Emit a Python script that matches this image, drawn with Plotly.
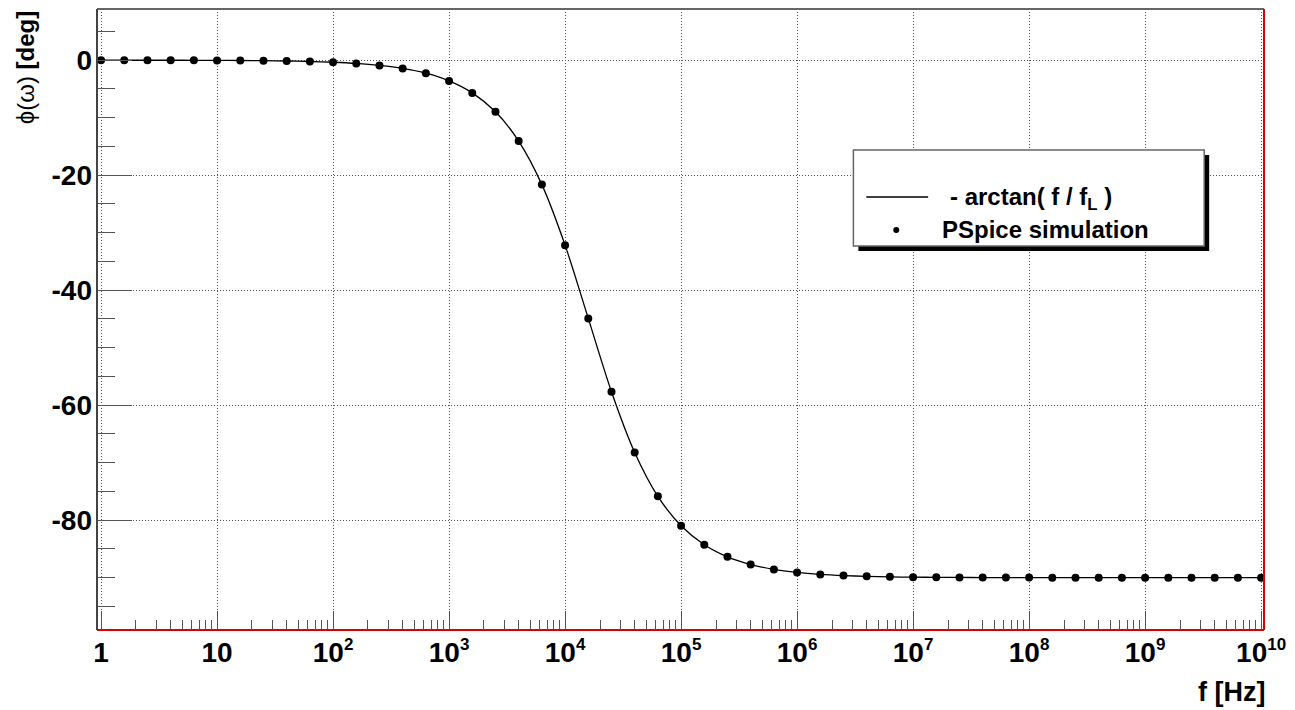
import plotly.graph_objects as go

# PSpice AC sweep: frequency [Hz] and phase [deg], 5 points per decade
freq_hz = [
    1.0, 1.585, 2.512, 3.981, 6.310,
    1.0e1, 1.585e1, 2.512e1, 3.981e1, 6.310e1,
    1.0e2, 1.585e2, 2.512e2, 3.981e2, 6.310e2,
    1.0e3, 1.585e3, 2.512e3, 3.981e3, 6.310e3,
    1.0e4, 1.585e4, 2.512e4, 3.981e4, 6.310e4,
    1.0e5, 1.585e5, 2.512e5, 3.981e5, 6.310e5,
    1.0e6, 1.585e6, 2.512e6, 3.981e6, 6.310e6,
    1.0e7, 1.585e7, 2.512e7, 3.981e7, 6.310e7,
    1.0e8, 1.585e8, 2.512e8, 3.981e8, 6.310e8,
    1.0e9, 1.585e9, 2.512e9, 3.981e9, 6.310e9,
    1.0e10,
]
phase_deg = [
    0.00, -0.01, -0.01, -0.01, -0.02,
    -0.04, -0.06, -0.09, -0.14, -0.23,
    -0.36, -0.57, -0.91, -1.43, -2.27,
    -3.60, -5.69, -8.98, -14.06, -21.64,
    -32.17, -44.91, -57.67, -68.23, -75.86,
    -80.97, -84.27, -86.38, -87.71, -88.56,
    -89.09, -89.43, -89.64, -89.77, -89.86,
    -89.91, -89.94, -89.96, -89.98, -89.99,
    -89.99, -90.00, -90.00, -90.00, -90.00,
    -90.00, -90.00, -90.00, -90.00, -90.00,
    -90.00,
]

x_tick_vals = [1, 1e1, 1e2, 1e3, 1e4, 1e5, 1e6, 1e7, 1e8, 1e9, 1e10]
x_tick_text = ["1", "10"] + [
    f"10<sup><span style='font-size:17px'>{e}</span></sup>" for e in range(2, 11)
]
y_tick_vals = [0, -20, -40, -60, -80]
y_tick_text = ["0", "-20", "-40", "-60", "-80"]

legend_line_label = "- arctan( f / f<sub>L</sub> )"
legend_marker_label = "PSpice simulation"
y_title = "<span style='font-weight:400'>ϕ(ω)</span> [deg]"
x_title = "f [Hz]"

FONT = "Liberation Sans"
W, H = 1295, 710
L, R, T, B = 97, 1268, 9, 630  # plot frame in pixels


def px(xp):
    return (xp - L) / (R - L)


def py(yp):
    return (B - yp) / (B - T)


x_minor = [m * 10 ** d for d in range(10) for m in range(2, 10)]
y_minor = [v for v in range(5, -100, -5) if v % 20 != 0]

fig = go.Figure()

fig.add_trace(go.Scatter(
    x=freq_hz, y=phase_deg, mode="lines",
    line=dict(color="black", width=1.3, shape="spline", smoothing=0.8),
    hoverinfo="skip", showlegend=False,
))
fig.add_trace(go.Scatter(
    x=freq_hz, y=phase_deg, mode="markers",
    marker=dict(color="black", size=8, symbol="circle"),
    showlegend=False,
))

tick_col = "#555555"
grid_col = "#555555"
grid_dash = "1px,2px"

fig.update_xaxes(
    type="log", range=[-0.035, 10.025],
    tickmode="array", tickvals=x_tick_vals, ticktext=x_tick_text,
    ticks="inside", ticklen=19, tickwidth=1, tickcolor=tick_col,
    minor=dict(tickmode="array", tickvals=x_minor, ticks="inside",
               ticklen=10, tickwidth=1, tickcolor=tick_col, showgrid=False),
    showgrid=True, gridcolor=grid_col, griddash=grid_dash, gridwidth=1,
    showline=False, zeroline=False,
    tickfont=dict(family=FONT, size=28, color="black", weight=700),
    ticklabelstandoff=3,
)
fig.update_yaxes(
    range=[-99.1, 8.9],
    tickmode="array", tickvals=y_tick_vals, ticktext=y_tick_text,
    ticks="inside", ticklen=35, tickwidth=1, tickcolor=tick_col,
    minor=dict(tickmode="array", tickvals=y_minor, ticks="inside",
               ticklen=18, tickwidth=1, tickcolor=tick_col, showgrid=False),
    showgrid=True, gridcolor=grid_col, griddash=grid_dash, gridwidth=1,
    showline=False, zeroline=False,
    tickfont=dict(family=FONT, size=28, color="black", weight=700),
    ticklabelstandoff=4,
)

shapes = [
    # frame: top and left grey, right and bottom red
    dict(type="line", xref="paper", yref="paper", x0=0, x1=1, y0=1, y1=1,
         line=dict(color="#666666", width=2)),
    dict(type="line", xref="paper", yref="paper", x0=0, x1=0, y0=0, y1=1,
         line=dict(color="#444444", width=2)),
    dict(type="line", xref="paper", yref="paper", x0=0, x1=1, y0=0, y1=0,
         line=dict(color="#dd0000", width=2)),
    dict(type="line", xref="paper", yref="paper", x0=1, x1=1, y0=0, y1=1,
         line=dict(color="#dd0000", width=2)),
    # legend box with drop shadow
    dict(type="rect", xref="paper", yref="paper",
         x0=px(861), x1=px(1213), y0=py(251), y1=py(155),
         fillcolor="black", line=dict(width=0), layer="above"),
    dict(type="rect", xref="paper", yref="paper",
         x0=px(856), x1=px(1208), y0=py(246), y1=py(150),
         fillcolor="white", line=dict(color="#666666", width=1.5), layer="above"),
    dict(type="line", xref="paper", yref="paper",
         x0=px(869), x1=px(931), y0=py(197), y1=py(197),
         line=dict(color="black", width=1.3), layer="above"),
    dict(type="circle", xref="paper", yref="paper",
         x0=px(896), x1=px(902), y0=py(233), y1=py(227),
         fillcolor="black", line=dict(width=0), layer="above"),
]

annotations = [
    dict(xref="paper", yref="paper", x=px(951), y=py(198), xanchor="left",
         yanchor="middle", text=legend_line_label, showarrow=False,
         font=dict(family=FONT, size=24, color="black", weight=700)),
    dict(xref="paper", yref="paper", x=px(943), y=py(229), xanchor="left",
         yanchor="middle", text=legend_marker_label, showarrow=False,
         font=dict(family=FONT, size=24, color="black", weight=700)),
    dict(xref="paper", yref="paper", x=px(25), y=py(8), xanchor="center",
         yanchor="top", text=y_title, textangle=-90, showarrow=False,
         font=dict(family=FONT, size=24, color="black", weight=700)),
    dict(xref="paper", yref="paper", x=px(1271), y=py(692), xanchor="right",
         yanchor="middle", text=x_title, showarrow=False,
         font=dict(family=FONT, size=27, color="black", weight=700)),
]

fig.update_layout(
    width=W, height=H,
    margin=dict(l=L, r=W - R, t=T, b=H - B),
    paper_bgcolor="white", plot_bgcolor="white",
    shapes=shapes, annotations=annotations,
    showlegend=False,
)

fig.write_html("out.html")
